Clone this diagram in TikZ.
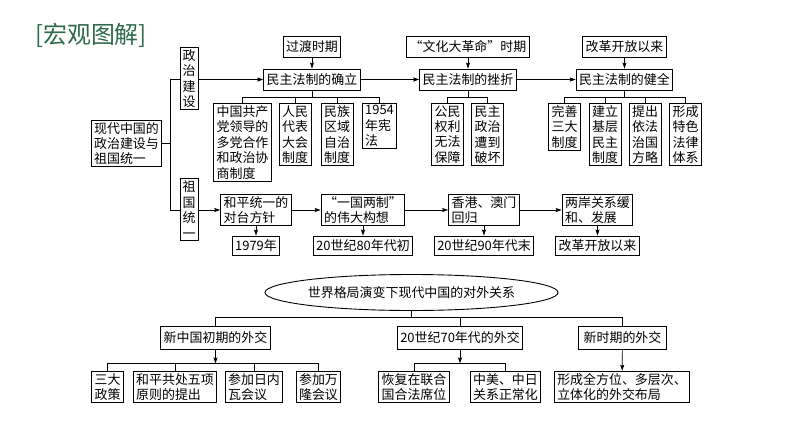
\documentclass[tikz,border=0pt]{standalone}
\usepackage{fontspec}
\setmainfont{Noto Sans CJK SC}
\usepackage{xcolor}
\usepackage{tikz}
\usetikzlibrary{arrows.meta,shapes.geometric}

\definecolor{titlegreen}{RGB}{47,105,78}

\tikzset{
  box/.style={draw,fill=white,line width=0.9pt,inner xsep=3bp,inner ysep=2bp,align=left,font=\fontsize{13}{15.5}\selectfont},
  tag/.style={box,minimum height=21bp},
  vbox/.style={box,align=center,inner xsep=2.5bp},
  link/.style={line width=0.7pt},
  arr/.style={link,-{Stealth[length=6bp,width=4bp,inset=1bp]}}
}

\begin{document}
\begin{tikzpicture}
    \fill[white] (0,0) rectangle (794bp,-447bp);
    \useasboundingbox (0,0) rectangle (794bp,-447bp);

    \node (title) at (91bp,-35bp)[text=titlegreen,font=\fontsize{24}{26}\selectfont] {[宏观图解]};

    % political construction and reunification
    \node (main) at (126.5bp,-143.5bp)[box] {现代中国的\\政治建设与\\祖国统一};

    \node (guodu) at (312bp,-47bp)[tag] {过渡时期};
    \node (queli) at (312bp,-79.5bp)[tag] {民主法制的确立};
    \node (wenge) at (468bp,-47bp)[tag] {“文化大革命”时期};
    \node (cuozhe) at (468bp,-79.5bp)[tag] {民主法制的挫折};
    \node (gaige) at (624.5bp,-47bp)[tag] {改革开放以来};
    \node (jianquan) at (624.5bp,-79.5bp)[tag] {民主法制的健全};

    \node (dang) at (242.5bp,-103bp)[box,anchor=north] {中国共产\\党领导的\\多党合作\\和政治协\\商制度};
    \node (renda) at (295bp,-103bp)[box,anchor=north] {人民\\代表\\大会\\制度};
    \node (minzu) at (337bp,-103bp)[box,anchor=north] {民族\\区域\\自治\\制度};
    \node (xianfa) at (379.5bp,-103bp)[box,anchor=north] {1954\\年宪\\法};

    \node (gongmin) at (447.5bp,-103bp)[box,anchor=north] {公民\\权利\\无法\\保障};
    \node (pohuai) at (487.5bp,-103bp)[box,anchor=north] {民主\\政治\\遭到\\破坏};

    \node (wanshan) at (564.5bp,-103bp)[box,anchor=north] {完善\\三大\\制度};
    \node (jiceng) at (605bp,-103bp)[box,anchor=north] {建立\\基层\\民主\\制度};
    \node (fazhi) at (645bp,-103bp)[box,anchor=north] {提出\\依法\\治国\\方略};
    \node (tixi) at (685.5bp,-103bp)[box,anchor=north] {形成\\特色\\法律\\体系};

    \node (heping) at (256bp,-210bp)[box] {和平统一的\\对台方针};
    \node (yiguo) at (363bp,-210bp)[box] {“一国两制”\\的伟大构想};
    \node (huigui) at (484bp,-210bp)[box] {香港、澳门\\回归};
    \node (liangan) at (597.5bp,-210bp)[box] {两岸关系缓\\和、发展};
    \node (t1979) at (256bp,-245.5bp)[tag,minimum height=19bp] {1979年};
    \node (t80) at (363bp,-245.5bp)[tag,minimum height=19bp] {20世纪80年代初};
    \node (t90) at (484bp,-245.5bp)[tag,minimum height=19bp] {20世纪90年代末};
    \node (tgaige) at (597.5bp,-245.5bp)[tag,minimum height=19bp] {改革开放以来};

    \draw [arr] (main.east) -- ++(8bp,0) |- (queli.west);
    \draw [arr] (main.east) -- ++(8bp,0) |- (heping.west);

    \draw [arr] (guodu) -- (queli);
    \draw [arr] (wenge) -- (cuozhe);
    \draw [arr] (gaige) -- (jianquan);
    \draw [arr] (queli) -- (cuozhe);
    \draw [arr] (cuozhe) -- (jianquan);

    \draw [link] (queli.south) -- ++(0,-7bp) coordinate (qb);
    \draw [link] (qb) -| (dang.north);
    \draw [link] (qb) -| (renda.north);
    \draw [link] (qb) -| (minzu.north);
    \draw [link] (qb) -| (xianfa.north);
    \draw [link] (cuozhe.south) -- ++(0,-7bp) coordinate (cb);
    \draw [link] (cb) -| (gongmin.north);
    \draw [link] (cb) -| (pohuai.north);
    \draw [link] (jianquan.south) -- ++(0,-7bp) coordinate (jb);
    \draw [link] (jb) -| (wanshan.north);
    \draw [link] (jb) -| (jiceng.north);
    \draw [link] (jb) -| (fazhi.north);
    \draw [link] (jb) -| (tixi.north);

    \draw [arr] (heping) -- (yiguo);
    \draw [arr] (yiguo) -- (huigui);
    \draw [arr] (huigui) -- (liangan);
    \draw [arr] (heping) -- (t1979);
    \draw [arr] (yiguo) -- (t80);
    \draw [arr] (huigui) -- (t90);
    \draw [arr] (liangan) -- (tgaige);

    \node (zhengzhi) at (189bp,-78.5bp)[vbox] {政\\治\\建\\设};
    \node (zuguo) at (189bp,-209.5bp)[vbox] {祖\\国\\统\\一};

    % foreign relations
    \node (waijiao) at (411.5bp,-292.5bp)[draw,ellipse,line width=0.9pt,minimum width=241bp,minimum height=36bp,inner sep=0pt,font=\fontsize{13}{15}\selectfont] {世界格局演变下现代中国的对外关系};

    \node (chuqi) at (215.5bp,-337.5bp)[tag,minimum height=23bp] {新中国初期的外交};
    \node (qishi) at (460bp,-337.5bp)[tag,minimum height=23bp] {20世纪70年代的外交};
    \node (xinshiqi) at (622.5bp,-337.5bp)[tag,minimum height=23bp,inner xsep=5bp] {新时期的外交};

    \node (sanda) at (107.5bp,-387bp)[box] {三大\\政策};
    \node (wuxiang) at (175bp,-387bp)[box] {和平共处五项\\原则的提出};
    \node (rineiwa) at (254bp,-387bp)[box] {参加日内\\瓦会议};
    \node (wanlong) at (318.5bp,-387bp)[box] {参加万\\隆会议};
    \node (lianheguo) at (414bp,-387bp)[box] {恢复在联合\\国合法席位};
    \node (zhengchang) at (505.5bp,-387bp)[box] {中美、中日\\关系正常化};
    \node (buju) at (622bp,-387bp)[box] {形成全方位、多层次、\\立体化的外交布局};

    \draw [link] (waijiao.south) -- ++(0,-6.5bp) coordinate (wb);
    \draw [link] (wb) -| (chuqi.north);
    \draw [link] (wb) -| (qishi.north);
    \draw [link] (wb) -| (xinshiqi.north);

    \draw [arr] (chuqi.south) -- ++(0,-14bp) coordinate (hb);
    \draw [link] (hb) -| (sanda.north);
    \draw [link] (hb) -| (wuxiang.north);
    \draw [link] (hb) -| (rineiwa.north);
    \draw [link] (hb) -| (wanlong.north);
    \draw [arr] (qishi.south) -- ++(0,-14bp) coordinate (sb);
    \draw [link] (sb) -| (lianheguo.north);
    \draw [link] (sb) -| (zhengchang.north);
    \draw [arr] (xinshiqi) -- (buju);
\end{tikzpicture}
\end{document}
